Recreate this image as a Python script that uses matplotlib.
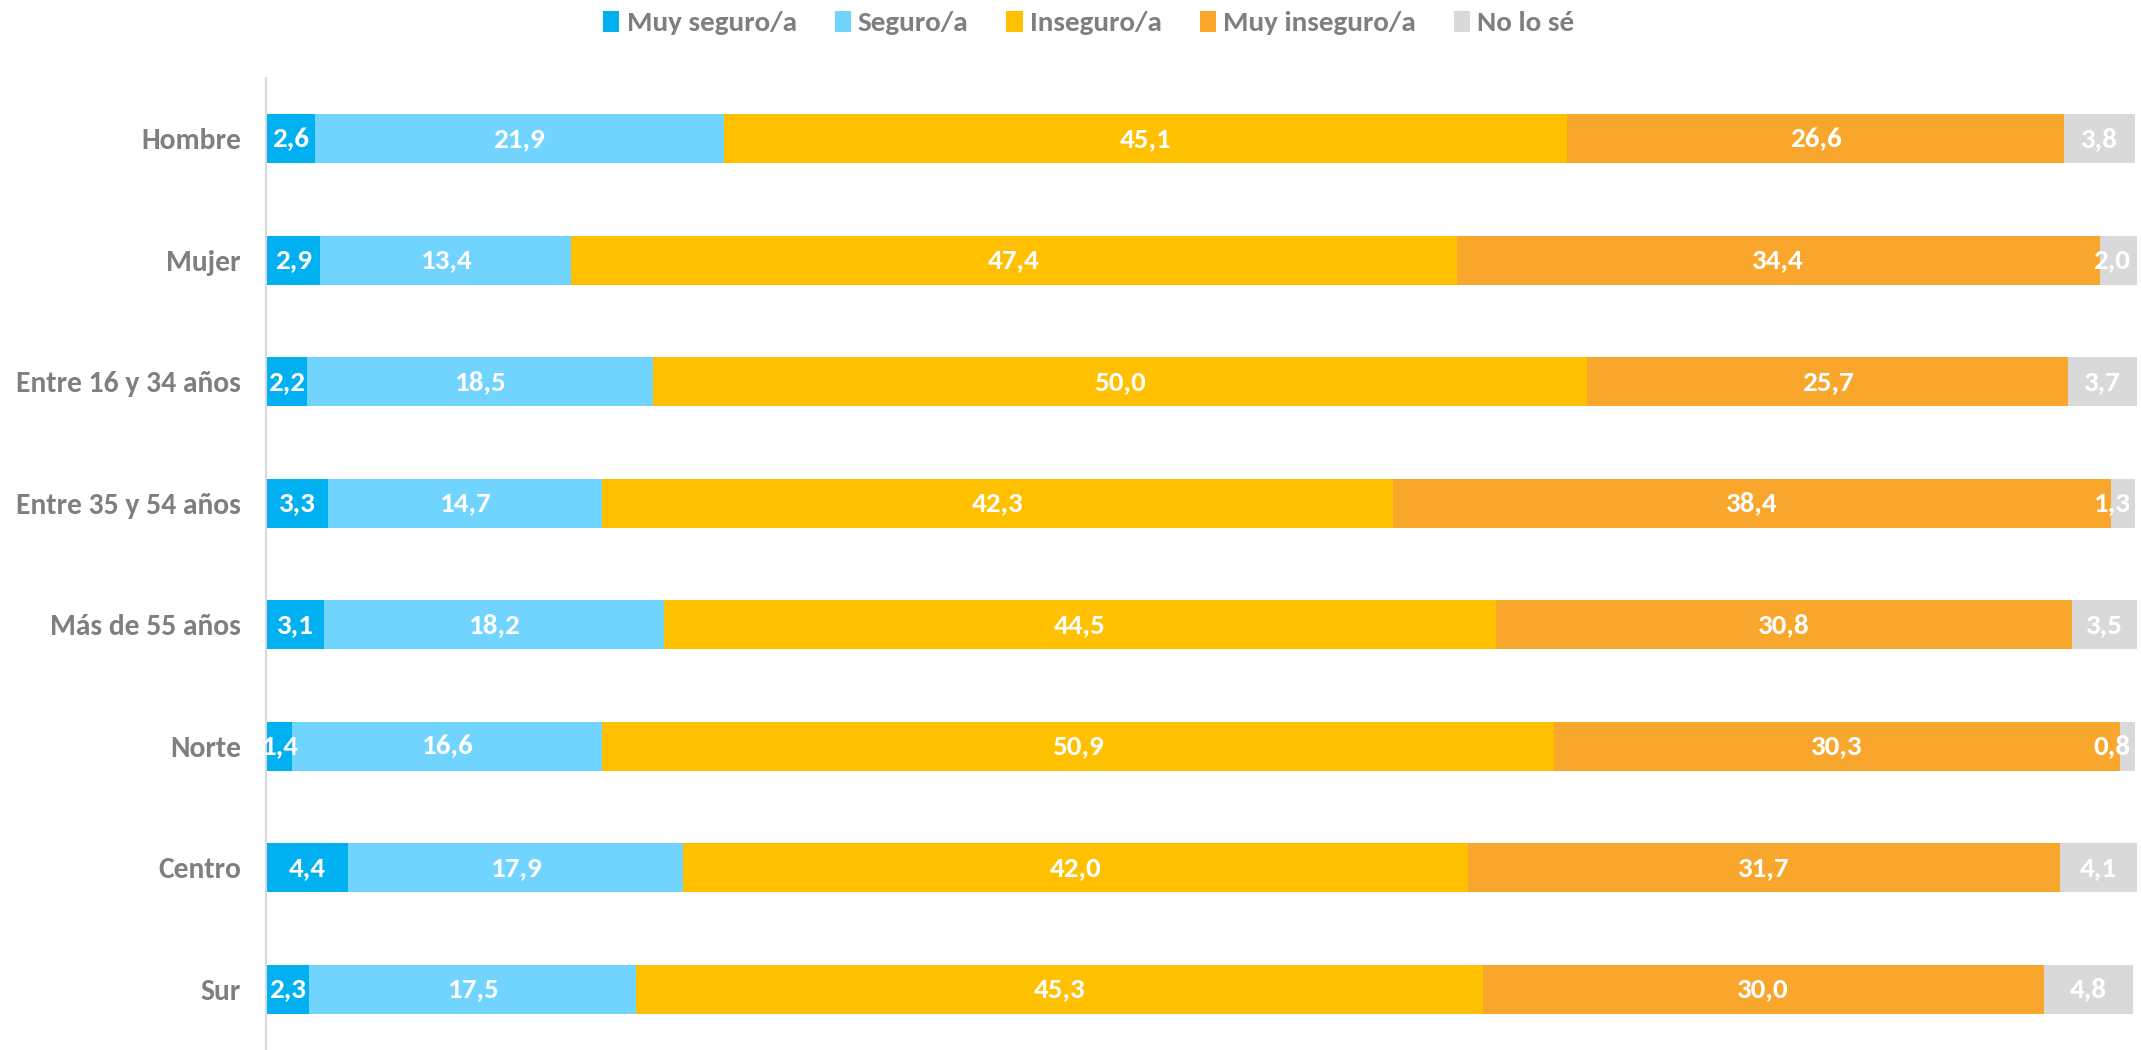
import numpy as np
import matplotlib
matplotlib.use("Agg")
import matplotlib.pyplot as plt

categories = ["Hombre", "Mujer", "Entre 16 y 34 años", "Entre 35 y 54 años",
              "Más de 55 años", "Norte", "Centro", "Sur"]
series_names = ["Muy seguro/a", "Seguro/a", "Inseguro/a", "Muy inseguro/a", "No lo sé"]
muy_seguro = [2.6, 2.9, 2.2, 3.3, 3.1, 1.4, 4.4, 2.3]
seguro = [21.9, 13.4, 18.5, 14.7, 18.2, 16.6, 17.9, 17.5]
inseguro = [45.1, 47.4, 50.0, 42.3, 44.5, 50.9, 42.0, 45.3]
muy_inseguro = [26.6, 34.4, 25.7, 38.4, 30.8, 30.3, 31.7, 30.0]
no_lo_se = [3.8, 2.0, 3.7, 1.3, 3.5, 0.8, 4.1, 4.8]
colors = ["#00B0F0", "#71D4FE", "#FFC000", "#F8A72C", "#D9D9D9"]

plt.rcParams["font.family"] = ["Carlito", "DejaVu Sans"]
plt.rcParams["font.weight"] = "bold"

fig = plt.figure(figsize=(21.41, 10.5), dpi=100)
ax = fig.add_axes([266 / 2141, 0, (2137 - 266) / 2141, (1050 - 78) / 1050])

y = np.arange(len(categories))
left = np.zeros(len(categories))
for name, vals, c in zip(series_names, [muy_seguro, seguro, inseguro, muy_inseguro, no_lo_se], colors):
    vals = np.array(vals)
    ax.barh(y, vals, left=left, height=0.4, color=c, label=name)
    for yi, l, v in zip(y, left, vals):
        # keep labels inside the plot area, like Excel does
        xc = min(l + v / 2, 98.75)
        ax.text(xc, yi, f"{v:.1f}".replace(".", ","), ha="center", va="center",
                color="white", fontsize=21, fontweight="bold")
    left += vals

ax.set_xlim(0, 100.1)
ax.set_ylim(len(categories) - 0.5, -0.5)
ax.set_yticks(y)
ax.set_yticklabels(categories, fontsize=21.3, color="#7F7F7F", fontweight="bold")
ax.tick_params(axis="y", length=0, pad=18)
ax.set_xticks([])
for s in ["top", "right", "bottom"]:
    ax.spines[s].set_visible(False)
ax.spines["left"].set_color("#D9D9D9")
ax.spines["left"].set_linewidth(1.5)

fig.legend(loc="center", bbox_to_anchor=(0.5085, 1 - 23 / 1050), ncol=5, frameon=False,
           fontsize=21, handlelength=0.55, handleheight=0.75, handletextpad=0.25,
           columnspacing=1.3, labelcolor="#7F7F7F")

fig.savefig("out.png", dpi=100)
